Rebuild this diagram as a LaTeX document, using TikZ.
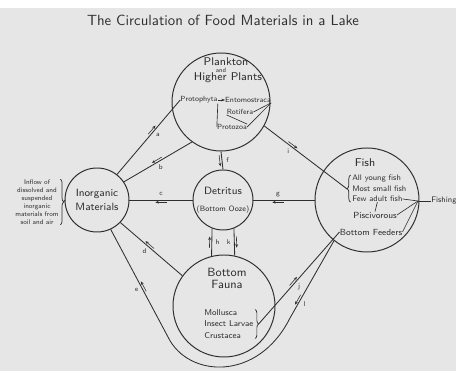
\documentclass[tikz,border=0pt]{standalone}
\usepackage{tikz}
\usetikzlibrary{arrows.meta}
\usetikzlibrary{decorations.markings}
\usetikzlibrary{decorations.pathreplacing}
\renewcommand{\familydefault}{\sfdefault}
\definecolor{ink}{HTML}{2E2E2E}
\definecolor{paper}{HTML}{E6E6E6}
\newcommand{\fsz}[2]{\fontsize{#1}{#2}\selectfont}

\tikzset{
    pool/.style={circle, draw=ink, line width=0.7pt, inner sep=0pt, align=center, text=ink},
    link/.style={draw=ink, line width=0.6pt},
    lbl/.style={inner sep=0pt, text=ink},
    brc/.style={draw=ink, line width=0.5pt, decorate, decoration={brace, amplitude=2.5pt}},
    flow/.style n args={3}{postaction={decorate, decoration={markings, mark=at position #1 with {
        \draw[ink, line width=0.4pt, -{Stealth[length=2.4pt, width=2pt]}] (-4pt,{-0.4*(#3)}) -- (4pt,{-0.4*(#3)});
        \node[lbl, font=\fsz{5}{5}] at (0,#3) {#2};}}}},
}

\begin{document}
\begin{tikzpicture}
    % sheet and title
    \useasboundingbox (0,0) rectangle (11.4,9.275);
    \fill[paper] (0,0) rectangle (11.4,9.075);
    \node[lbl, font=\fsz{10.5}{12}] (title) at (5.575,8.775) {The Circulation of Food Materials in a Lake};

    % the five pools
    \node[pool, minimum size=2.45cm] (plank) at (5.525,6.725) {};
    \node[pool, minimum size=1.6cm, font=\fsz{7.5}{10.5}] (inorg) at (2.425,4.275) {Inorganic\\Materials};
    \node[pool, minimum size=1.5cm, font=\fsz{7.5}{12}] (detr) at (5.575,4.275) {Detritus\\{\fsz{5.5}{6}(Bottom Ooze)}};
    \node[pool, minimum size=2.6cm] (fish) at (9.175,4.275) {};
    \node[pool, minimum size=2.55cm] (fauna) at (5.6,1.625) {};

    % plankton
    \node[lbl, font=\fsz{8}{9}] (plname) at (5.65,7.725) {Plankton};
    \node[lbl, font=\fsz{4.5}{5}] (pland) at (5.525,7.525) {and};
    \node[lbl, font=\fsz{8}{9}] (plhigh) at (5.7,7.325) {Higher Plants};
    \node[lbl, font=\fsz{5.3}{6}] (proto) at (4.975,6.775) {Protophyta};
    \node[lbl, font=\fsz{5.3}{6}] (ento) at (6.2,6.775) {Entomostraca};
    \node[lbl, font=\fsz{5.3}{6}] (roti) at (6.0,6.475) {Rotifera};
    \node[lbl, font=\fsz{5.3}{6}] (protoz) at (5.8,6.1) {Protozoa};
    \draw[link, line width=0.45pt, -{Stealth[length=2.5pt, width=2pt]}] (proto.east) -- (ento.west);
    \draw[link, line width=0.45pt] (proto.south east) -- (protoz.west);
    \draw[link, line width=0.45pt] (ento.south east) -- (protoz.east);
    \draw[link, line width=0.45pt] (ento.south east) -- (roti.east);
    \draw[link, line width=0.45pt] (roti.south west) -- (protoz.north east);

    % bottom fauna
    \node[lbl, font=\fsz{8.5}{8.5}, align=center] (faname) at (5.675,2.325) {Bottom\\Fauna};
    \node[lbl, font=\fsz{6}{8}, align=left, anchor=west] (molls) at (5.1,1.175) {Mollusca\\Insect Larvae\\Crustacea};
    \draw[brc] ([xshift=1pt]molls.north east) -- ([xshift=1pt]molls.south east);
    \coordinate (mtip) at ([xshift=3.5pt]molls.east);

    % fish
    \node[lbl, font=\fsz{8}{9}] (fname) at (9.125,5.2) {Fish};
    \node[lbl, font=\fsz{5.7}{7}, anchor=west] (young) at (8.8,4.8) {All young fish};
    \node[lbl, font=\fsz{5.7}{7}, anchor=west] (small) at (8.8,4.55) {Most small fish};
    \node[lbl, font=\fsz{5.7}{7}, anchor=west] (few) at (8.8,4.3) {Few adult fish};
    \node[lbl, font=\fsz{6.3}{7}] (pisc) at (9.375,3.9) {Piscivorous};
    \node[lbl, font=\fsz{6.3}{7}] (bfeed) at (9.275,3.475) {Bottom Feeders};
    \draw[brc] ([xshift=-1pt]few.south west) -- ([xshift=-1pt]young.north west);
    \coordinate (ftip) at ([xshift=-3.5pt]small.west);
    \coordinate (junc) at (10.45,4.25);
    \node[lbl, font=\fsz{5.7}{7}, anchor=west] (fishing) at (10.775,4.25) {Fishing};
    \draw[link, line width=0.45pt] (few.south) -- (pisc.north);
    \draw[link, line width=0.45pt] (few.east) -- (junc);
    \draw[link, line width=0.45pt] (pisc.east) -- (junc);
    \draw[link, line width=0.45pt] (bfeed.east) -- (junc);
    \draw[link, line width=0.45pt] (junc) -- (fishing.west);

    % inflow
    \node[lbl, font=\fsz{4.8}{5.7}, align=center] (inflow) at (0.925,4.225) {Inflow of\\dissolved and\\suspended\\inorganic\\materials from\\soil and air};
    \draw[brc] ([xshift=1pt]inflow.north east) -- ([xshift=1pt]inflow.south east);
    \coordinate (intip) at ([xshift=3.5pt]inflow.east);
    \draw[link] (intip) -- (inorg.west);

    % circulation
    \draw[link, flow={0.58}{a}{-4pt}] (inorg.52) -- (proto.west);
    \draw[link, flow={0.5}{b}{4pt}] (plank.234) -- (inorg.34);
    \draw[link, flow={0.5}{c}{-4pt}] (detr.west) -- (inorg.east);
    \draw[link, flow={0.55}{d}{4pt}] (fauna.144) -- (inorg.-44);
    \draw[link, flow={0.5}{f}{4pt}] (plank.south) -- (detr.north);
    \draw[link, flow={0.6}{g}{-4pt}] (fish.west) -- (detr.east);
    \draw[link, flow={0.5}{h}{-4pt}] (fauna.104) -- (detr.249);
    \draw[link, flow={0.5}{k}{-4pt}] (detr.291) -- (fauna.78);
    \draw[link, flow={0.33}{i}{-4pt}] (plank.-29) -- (ftip);
    \draw[link, flow={0.45}{j}{-4pt}] (mtip) -- (bfeed.west);
    \coordinate (uright) at (7.25,1.325);
    \coordinate (uleft) at (4.2,0.85);
    \draw[link, flow={0.19}{l}{4pt}, flow={0.82}{e}{4pt}] (fish.231) -- (uright) .. controls (6.45,-0.275) and (4.7,-0.175) .. (uleft) -- (inorg.-65);
\end{tikzpicture}
\end{document}
